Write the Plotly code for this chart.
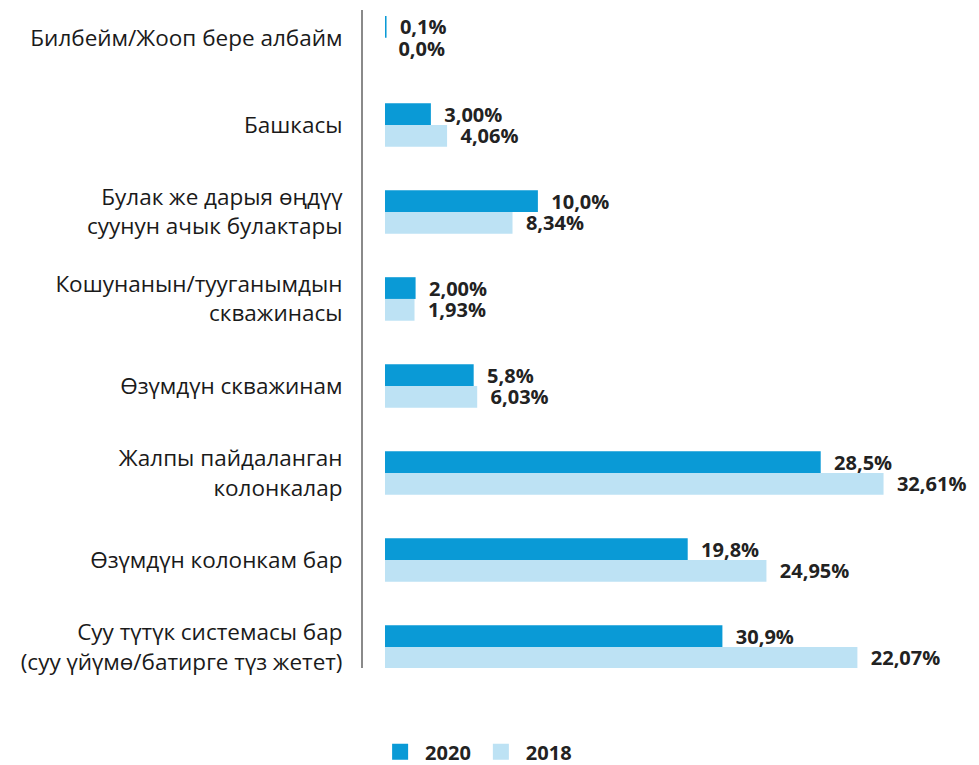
import plotly.graph_objects as go

categories = [
    "Билбейм/Жооп бере албайм",
    "Башкасы",
    "Булак же дарыя өңдүү<br>суунун ачык булактары",
    "Кошунанын/тууганымдын<br>скважинасы",
    "Өзүмдүн скважинам",
    "Жалпы пайдаланган<br>колонкалар",
    "Өзүмдүн колонкам бар",
    "Суу түтүк системасы бар<br>(суу үйүмө/батирге түз жетет)",
]
values_2020 = [0.1, 3.00, 10.0, 2.00, 5.8, 28.5, 19.8, 22.07]
values_2018 = [0.0, 4.06, 8.34, 1.93, 6.03, 32.61, 24.95, 30.9]
labels_2020 = ["0,1%", "3,00%", "10,0%", "2,00%", "5,8%", "28,5%", "19,8%", "30,9%"]
labels_2018 = ["0,0%", "4,06%", "8,34%", "1,93%", "6,03%", "32,61%", "24,95%", "22,07%"]
series_names = ["2020", "2018"]

C2020 = "#0a9ad6"
C2018 = "#bde2f4"
PAD = "\u00a0\u00a0"
LBL_FONT = dict(family="Open Sans", size=20, color="#222222", weight="bold")

fig = go.Figure()
for name, vals, labs, col in [
    (series_names[0], values_2020, labels_2020, C2020),
    (series_names[1], values_2018, labels_2018, C2018),
]:
    fig.add_trace(go.Bar(
        name=name, y=categories, x=vals, orientation="h",
        marker=dict(color=col, line=dict(width=0)),
        text=[PAD + t for t in labs], textposition="outside",
        textfont=LBL_FONT, constraintext="none", cliponaxis=False,
        hoverinfo="skip", showlegend=False,
    ))
# legend entries with larger square swatches
for name, col in [(series_names[0], C2020), (series_names[1], C2018)]:
    fig.add_trace(go.Scatter(
        name=name, x=[None], y=[None], mode="markers",
        marker=dict(symbol="square", size=20, color=col),
        showlegend=True, hoverinfo="skip",
    ))

fig.update_layout(
    width=979, height=765,
    paper_bgcolor="white", plot_bgcolor="white",
    barmode="group", bargap=0.5, bargroupgap=0.0,
    margin=dict(l=363, r=10, t=10, b=97, autoexpand=False),
    font=dict(family="Open Sans", color="#222222"),
    showlegend=True,
    legend=dict(
        orientation="h", x=0.02, y=-0.157, xanchor="left", yanchor="bottom",
        font=dict(size=20, color="#222222", weight="bold"),
        itemsizing="trace", traceorder="normal", itemwidth=40,
    ),
    xaxis=dict(range=[-1.44, 38.2], showgrid=False, zeroline=False,
               showticklabels=False, showline=False, fixedrange=True,
               automargin=False),
    yaxis=dict(
        type="category", categoryorder="array", categoryarray=categories,
        range=[7.24, -0.32], showgrid=False, zeroline=False,
        showline=True, linecolor="#8a8a8a", linewidth=2,
        ticks="", ticklabelstandoff=14, automargin=False, fixedrange=True,
        tickfont=dict(family="Open Sans", size=22.5, color="#1a1a1a"),
    ),
)

fig.write_html(
    "out.html",
    config={"displayModeBar": False, "staticPlot": True},
    post_script="document.body.style.margin='0px';document.body.style.overflow='hidden';",
)
